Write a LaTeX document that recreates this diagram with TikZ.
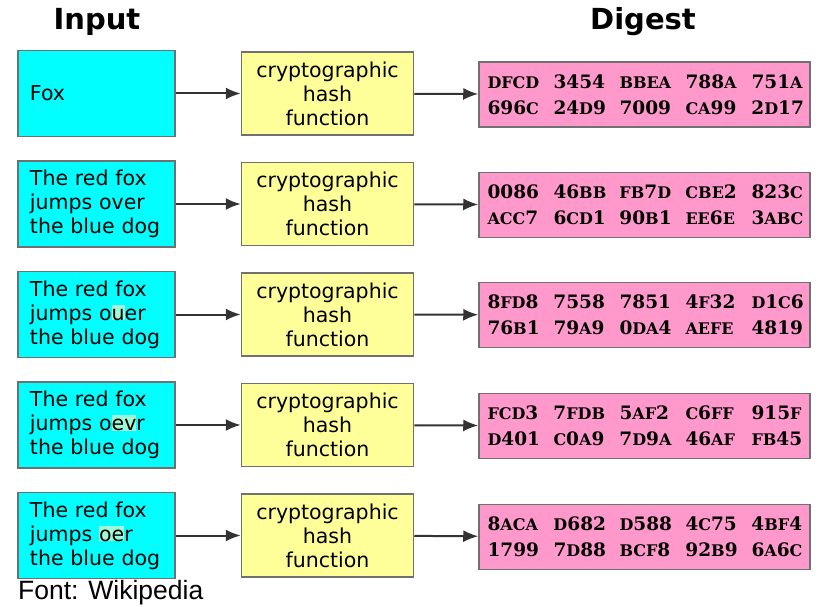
\documentclass[tikz,border=0pt]{standalone}
\usepackage{fontspec}
\usepackage{tikz}
\usetikzlibrary{arrows.meta}

\setmainfont{DejaVu Sans}
\newfontfamily\digestfont{DejaVu Serif}[BoldFont=* Bold]
\newfontfamily\notefont{Liberation Sans}

\definecolor{incyan}{RGB}{0,255,255}
\definecolor{hashyellow}{RGB}{255,255,153}
\definecolor{digpink}{RGB}{255,153,204}
\definecolor{boxgray}{RGB}{112,112,112}
\definecolor{changed}{RGB}{160,250,215}

% small capital letters inside the hex digest
\newcommand{\hexl}[1]{{\fontsize{16}{16}\selectfont #1}}
% one group of four hex digits
\newcommand{\grp}[1]{\makebox[66pt][l]{#1}}
% shaded letters that differ from "over"
\newcommand{\edit}[1]{{\setlength{\fboxsep}{0pt}\colorbox{changed}{\vphantom{d}#1}}}

\begin{document}
\begin{tikzpicture}[x = 1pt, y = -1pt,
                    inbox/.style = {draw = boxgray, line width = 1.5pt, fill = incyan,
                                    minimum width = 157pt, minimum height = 86pt,
                                    text width = 133pt, inner xsep = 12pt, align = left,
                                    font = \fontsize{20.5}{24}\selectfont},
                    hashbox/.style = {draw = boxgray, line width = 1.5pt, fill = hashyellow,
                                      minimum width = 172pt, minimum height = 83pt,
                                      align = center, font = \fontsize{20.5}{24}\selectfont},
                    digbox/.style = {draw = boxgray, line width = 1.5pt, fill = digpink,
                                     minimum width = 331pt, minimum height = 65pt,
                                     text width = 314pt, align = left,
                                     font = \digestfont\bfseries\fontsize{18.5}{26}\selectfont},
                    title/.style = {font = \bfseries\fontsize{29}{32}\selectfont},
                    flow/.style = {draw = black!80, line width = 2pt,
                                   -{Latex[length = 15pt, width = 12pt]}}]
  \useasboundingbox (0, 0) rectangle (823, 607);

  \node [title] (intitle) at (97, 22) {Input};
  \node [title] (digtitle) at (643, 22) {Digest};

  % inputs
  \node [inbox] (in1) at (96.5, 93.5) {Fox};
  \node [inbox] (in2) at (96.5, 204) {The red fox\\jumps over\\the blue dog};
  \node [inbox] (in3) at (96.5, 314.5) {The red fox\\jumps o\edit{u}er\\the blue dog};
  \node [inbox] (in4) at (96.5, 425) {The red fox\\jumps o\edit{ev}r\\the blue dog};
  \node [inbox] (in5) at (96.5, 535.5) {The red fox\\jumps \edit{oe}r\\the blue dog};

  % hash functions
  \node [hashbox] (hash1) at (327.5, 93.5) {cryptographic\\hash\\function};
  \node [hashbox] (hash2) at (327.5, 204) {cryptographic\\hash\\function};
  \node [hashbox] (hash3) at (327.5, 314.5) {cryptographic\\hash\\function};
  \node [hashbox] (hash4) at (327.5, 425) {cryptographic\\hash\\function};
  \node [hashbox] (hash5) at (327.5, 535.5) {cryptographic\\hash\\function};

  % digests
  \node [digbox] (dig1) at (644.5, 94.5)
    {\grp{\hexl{DFCD}}\grp{3454}\grp{\hexl{BBEA}}\grp{788\hexl{A}}751\hexl{A}\\
     \grp{696\hexl{C}}\grp{24\hexl{D}9}\grp{7009}\grp{\hexl{CA}99}2\hexl{D}17};
  \node [digbox] (dig2) at (644.5, 205)
    {\grp{0086}\grp{46\hexl{BB}}\grp{\hexl{FB}7\hexl{D}}\grp{\hexl{CBE}2}823\hexl{C}\\
     \grp{\hexl{ACC}7}\grp{6\hexl{CD}1}\grp{90\hexl{B}1}\grp{\hexl{EE}6\hexl{E}}3\hexl{ABC}};
  \node [digbox] (dig3) at (644.5, 315)
    {\grp{8\hexl{FD}8}\grp{7558}\grp{7851}\grp{4\hexl{F}32}\hexl{D}1\hexl{C}6\\
     \grp{76\hexl{B}1}\grp{79\hexl{A}9}\grp{0\hexl{DA}4}\grp{\hexl{AEFE}}4819};
  \node [digbox] (dig4) at (644.5, 426)
    {\grp{\hexl{FCD}3}\grp{7\hexl{FDB}}\grp{5\hexl{AF}2}\grp{\hexl{C}6\hexl{FF}}915\hexl{F}\\
     \grp{\hexl{D}401}\grp{\hexl{C}0\hexl{A}9}\grp{7\hexl{D}9\hexl{A}}\grp{46\hexl{AF}}\hexl{FB}45};
  \node [digbox] (dig5) at (644.5, 537)
    {\grp{8\hexl{ACA}}\grp{\hexl{D}682}\grp{\hexl{D}588}\grp{4\hexl{C}75}4\hexl{BF}4\\
     \grp{1799}\grp{7\hexl{D}88}\grp{\hexl{BCF}8}\grp{92\hexl{B}9}6\hexl{A}6\hexl{C}};

  \draw [flow] (in1) -- (hash1);
  \draw [flow] (in2) -- (hash2);
  \draw [flow] (in3) -- (hash3);
  \draw [flow] (in4) -- (hash4);
  \draw [flow] (in5) -- (hash5);
  \draw [flow] (hash1) -- (dig1);
  \draw [flow] (hash2) -- (dig2);
  \draw [flow] (hash3) -- (dig3);
  \draw [flow] (hash4) -- (dig4);
  \draw [flow] (hash5) -- (dig5);

  \node [anchor = base west, inner sep = 0pt, font = \notefont\fontsize{26.5}{28}\selectfont]
    (credit) at (18, 599.5) {Font: Wikipedia};
\end{tikzpicture}
\end{document}
